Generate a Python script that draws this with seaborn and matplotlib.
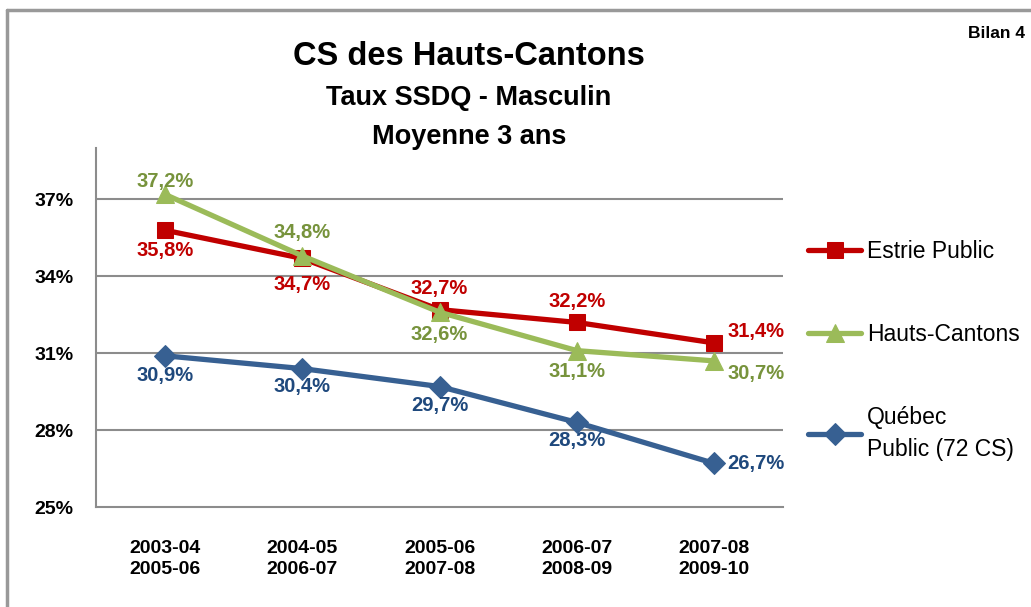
import matplotlib
matplotlib.use("Agg")
import matplotlib.pyplot as plt
from matplotlib.lines import Line2D
import seaborn as sns
import pandas as pd

periodes = ["2003-04\n2005-06", "2004-05\n2006-07", "2005-06\n2007-08",
            "2006-07\n2008-09", "2007-08\n2009-10"]

estrie = [35.8, 34.7, 32.7, 32.2, 31.4]
hauts_cantons = [37.2, 34.8, 32.6, 31.1, 30.7]
quebec = [30.9, 30.4, 29.7, 28.3, 26.7]

y_ticks = [25, 28, 31, 34, 37]

sns.set_style("white")
plt.rcParams["font.family"] = ["Liberation Sans", "DejaVu Sans"]
plt.rcParams["text.color"] = "black"
plt.rcParams["xtick.color"] = "black"
plt.rcParams["ytick.color"] = "black"

fig = plt.figure(figsize=(10.31, 6.07), dpi=100)
ax = fig.add_axes([0.0931, 0.1647, 0.6664, 0.5913])

# decalage des etiquettes (points) pour chaque serie
dec_quebec = [(0, -14), (0, -13), (0, -14), (0, -13), (30, 0)]
dec_estrie = [(0, -15), (0, -19), (0, 15), (0, 15), (30, 8)]
dec_hauts = [(0, 9), (0, 17), (0, -16), (0, -15), (30, -9)]

series = [
    ("Québec\nPublic (72 CS)", quebec, "#376092", "#1F497D", "D", dec_quebec),
    ("Estrie Public", estrie, "#C00000", "#C00000", "s", dec_estrie),
    ("Hauts-Cantons", hauts_cantons, "#9BBB59", "#77933C", "^", dec_hauts),
]

for nom, vals, col, lab_col, mk, dec in series:
    df = pd.DataFrame({"periode": periodes, "taux": vals})
    sns.lineplot(data=df, x="periode", y="taux", ax=ax, sort=False, color=col,
                 linewidth=3.8, marker=mk, markersize=11 if mk != "^" else 13,
                 markeredgecolor=col, label=nom)
    for i, v in enumerate(vals):
        ax.annotate(f"{v:.1f}%".replace(".", ","), (i, v), xytext=dec[i],
                    textcoords="offset points", ha="center", va="center",
                    fontsize=14.5, fontweight="bold", color=lab_col)

ax.set_xlim(-0.5, 4.5)
ax.set_ylim(25, 39)
ax.set_yticks(y_ticks)
ax.set_yticklabels([f"{t}%" for t in y_ticks], fontsize=14, fontweight="bold")
ax.set_xticks(range(len(periodes)))
ax.set_xticklabels(periodes, fontsize=14, fontweight="bold", linespacing=1.3)
ax.set_xticks([i - 0.5 for i in range(len(periodes) + 1)], minor=True)
ax.tick_params(axis="x", which="major", length=0, pad=24)
ax.tick_params(axis="x", which="minor", length=6, color="#888888", width=1.3, direction="out")
ax.tick_params(axis="y", length=6, color="#888888", width=1.3, direction="out", pad=10)
ax.set_xlabel("")
ax.set_ylabel("")

for y in y_ticks[1:]:
    ax.axhline(y, color="#8C8C8C", linewidth=1.5, zorder=0)
for s in ["top", "right"]:
    ax.spines[s].set_visible(False)
for s in ["left", "bottom"]:
    ax.spines[s].set_color("#8C8C8C")
    ax.spines[s].set_linewidth(1.5)

handles, labels = ax.get_legend_handles_labels()
order = [1, 2, 0]
ax.get_legend().remove()
leg = fig.legend([handles[i] for i in order], [labels[i] for i in order],
                 loc="upper left", bbox_to_anchor=(0.764, 0.638), frameon=False,
                 fontsize=16.5, handlelength=2.3, handletextpad=0.25, labelspacing=2.6)
for t in leg.get_texts():
    t.set_linespacing(1.55)

fig.text(0.455, 0.907, "CS des Hauts-Cantons", ha="center", va="center",
         fontsize=23.5, fontweight="bold")
fig.text(0.455, 0.838, "Taux SSDQ - Masculin", ha="center", va="center",
         fontsize=19.5, fontweight="bold")
fig.text(0.455, 0.775, "Moyenne 3 ans", ha="center", va="center",
         fontsize=19.5, fontweight="bold")
fig.text(0.994, 0.945, "Bilan 4", ha="right", va="center",
         fontsize=12.5, fontweight="bold")

fig.add_artist(Line2D([0.007, 0.007], [0, 0.984], color="#999999", linewidth=2.5))
fig.add_artist(Line2D([0.007, 1.0], [0.984, 0.984], color="#999999", linewidth=2.5))

fig.savefig("out.png", dpi=100)
